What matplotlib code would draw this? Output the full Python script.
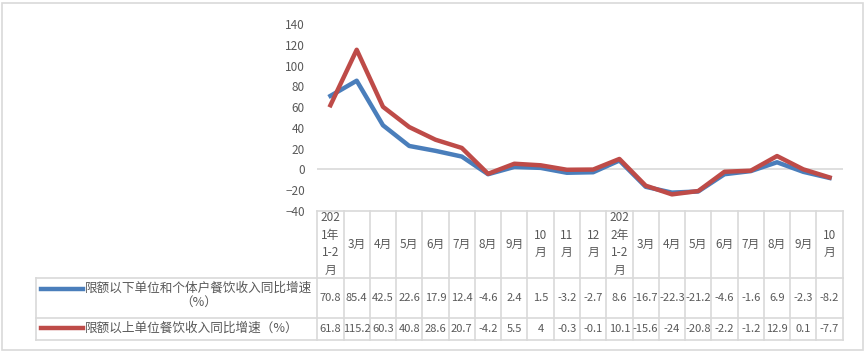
import numpy as np
import matplotlib.pyplot as plt
from matplotlib.patches import Rectangle

plt.rcParams['font.family'] = ['Noto Sans CJK SC', 'DejaVu Sans']

categories = ['202\n1年\n1-2\n月', '3月', '4月', '5月', '6月', '7月', '8月', '9月',
              '10\n月', '11\n月', '12\n月', '202\n2年\n1-2\n月', '3月', '4月', '5月',
              '6月', '7月', '8月', '9月', '10\n月']
below_limit = [70.8, 85.4, 42.5, 22.6, 17.9, 12.4, -4.6, 2.4, 1.5, -3.2, -2.7, 8.6,
               -16.7, -22.3, -21.2, -4.6, -1.6, 6.9, -2.3, -8.2]
above_limit = [61.8, 115.2, 60.3, 40.8, 28.6, 20.7, -4.2, 5.5, 4, -0.3, -0.1, 10.1,
               -15.6, -24, -20.8, -2.2, -1.2, 12.9, 0.1, -7.7]
series_names = ['限额以下单位和个体户餐饮收入同比增速\n（%）', '限额以上单位餐饮收入同比增速（%）']
yticks = [-40, -20, 0, 20, 40, 60, 80, 100, 120, 140]

blue = '#4A7EBB'
red = '#BE4B48'
grid = '#D9D9D9'
txt = '#595959'

W, H = 867, 352
fig = plt.figure(figsize=(W / 100, H / 100), dpi=100)
fig.patches.append(Rectangle((2 / W, 2 / H), 861 / W, 347 / H, transform=fig.transFigure,
                             fill=False, edgecolor=grid, lw=1.2))

left, right, top, bottom = 317.3, 842.7, 24, 211
ax = fig.add_axes([left / W, 1 - bottom / H, (right - left) / W, (bottom - top) / H])

x = np.arange(len(categories))
ax.plot(x, below_limit, color=blue, lw=3.2, solid_joinstyle='round', zorder=3)
ax.plot(x, above_limit, color=red, lw=3.2, solid_joinstyle='round', zorder=3)
ax.axhline(0, color=grid, lw=1.2, zorder=1)

ax.set_xlim(-0.5, len(categories) - 0.5)
ax.set_ylim(-40, 140)
ax.set_yticks(yticks)
ax.set_xticks([])
ax.tick_params(axis='y', length=0, colors=txt, labelsize=8.5, pad=9)
for s in ax.spines.values():
    s.set_visible(False)

# data table under the plot
ph = bottom - top
def fy(py):
    return (bottom - py) / ph
def fx(px):
    return (px - left) / (right - left)

tr = ax.get_xaxis_transform()
row_lines = [211, 278, 318, 340]
kw = dict(color=grid, lw=1.2, clip_on=False)
ax.plot([-0.5, len(categories) - 0.5], [fy(211)] * 2, transform=tr, **kw)
for py in row_lines[1:]:
    ax.plot([fx(35.7), 1], [fy(py)] * 2, transform=ax.transAxes, **kw)
ax.plot([fx(35.7)] * 2, [fy(278), fy(340)], transform=ax.transAxes, **kw)
for i in range(len(categories) + 1):
    ax.plot([i - 0.5] * 2, [fy(211), fy(340)], transform=tr, **kw)

for i, lab in enumerate(categories):
    ax.text(i, fy(244), lab, transform=tr, ha='center', va='center',
            fontsize=8.5, color=txt, linespacing=1.45, clip_on=False)
    ax.text(i, fy(298), f'{below_limit[i]:g}', transform=tr, ha='center', va='center',
            fontsize=8, color=txt)
    ax.text(i, fy(329), f'{above_limit[i]:g}', transform=tr, ha='center', va='center',
            fontsize=8, color=txt)

# legend keys
ax.plot([fx(41), fx(83)], [fy(289)] * 2, transform=ax.transAxes, color=blue, lw=3.2,
        clip_on=False)
ax.plot([fx(41), fx(83)], [fy(328)] * 2, transform=ax.transAxes, color=red, lw=3.2,
        clip_on=False)
ax.text(fx(85), fy(296), series_names[0], transform=ax.transAxes, ha='left',
        va='center', multialignment='center', fontsize=9.1, color=txt, linespacing=1.2)
ax.text(fx(85), fy(328), series_names[1], transform=ax.transAxes, ha='left',
        va='center', fontsize=9.1, color=txt)

fig.savefig('out.png', dpi=100)
